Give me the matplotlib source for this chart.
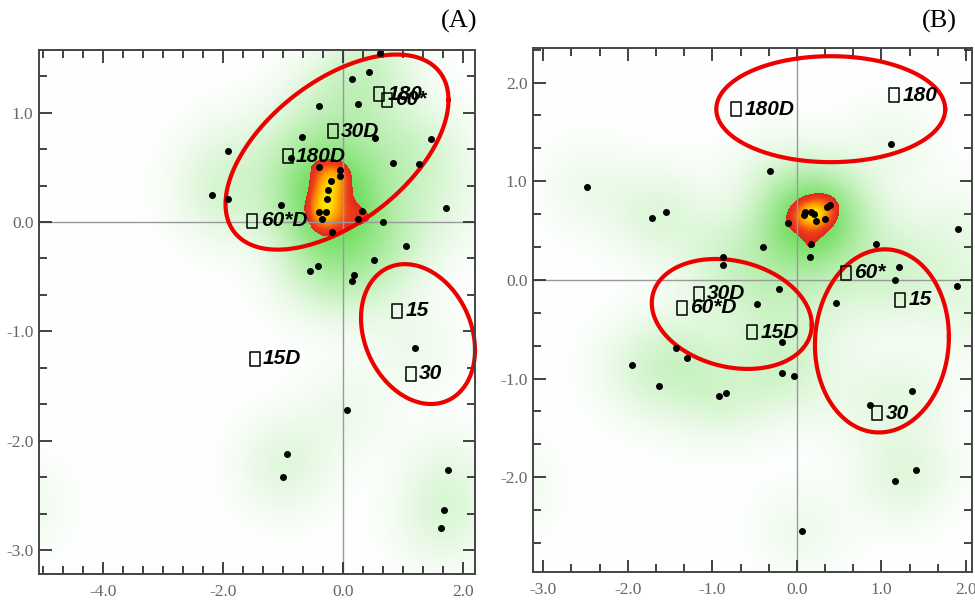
import numpy as np
import matplotlib
matplotlib.use("Agg")
import matplotlib.pyplot as plt
from matplotlib.colors import LinearSegmentedColormap
from matplotlib.path import Path
import matplotlib.font_manager as fm

# ---------------- data: panel A ----------------
a_pts_x = [0.62, 0.43, 0.15, -0.40, 0.25, -0.68, 0.53, 1.47, -1.92, -0.87, 0.83, 1.27,
           -0.40, -0.05, -0.05, -0.20, -0.25, -0.27, -2.18, -1.92, -1.03, 1.71, 0.32,
           -0.40, -0.29, -0.35, 0.25, 0.66, -0.18, 1.05, 0.52, -0.42, -0.55, 0.18, 0.15,
           1.20, 0.06, -0.93, -1.00, 1.75, 1.69, 1.64]
a_pts_y = [1.55, 1.37, 1.31, 1.06, 1.08, 0.78, 0.77, 0.76, 0.65, 0.59, 0.54, 0.53,
           0.50, 0.48, 0.42, 0.38, 0.29, 0.21, 0.25, 0.21, 0.16, 0.13, 0.10,
           0.09, 0.09, 0.03, 0.03, 0.00, -0.09, -0.22, -0.35, -0.40, -0.45, -0.48, -0.54,
           -1.15, -1.72, -2.12, -2.33, -2.27, -2.63, -2.80]
# samples just outside the visible window (only their density halo shows)
a_out_x = [-5.35]
a_out_y = [-2.60]
a_lab = ["180", "60*", "30D", "180D", "60*D", "15", "15D", "30"]
a_lab_x = [0.60, 0.73, -0.17, -0.92, -1.51, 0.90, -1.47, 1.13]
a_lab_y = [1.17, 1.12, 0.83, 0.60, 0.01, -0.81, -1.25, -1.39]
a_xticks = [-4.0, -2.0, 0.0, 2.0]
a_yticks = [1.0, 0.0, -1.0, -2.0, -3.0]

# ---------------- data: panel B ----------------
b_pts_x = [-2.48, -1.71, -1.55, -0.32, 1.11, -0.10, 0.08, 0.10, 0.17, 0.20, 0.22, 0.33,
           0.35, 0.39, 0.17, 0.16, -0.40, -0.87, -0.87, 0.93, 1.91, 1.21, 1.16, 1.89,
           -0.21, 0.46, -0.47, -0.18, -1.43, -1.30, -1.95, -1.63, -0.92, -0.84, -0.18,
           -0.03, 1.36, 0.86, 1.16, 1.41, 0.06]
b_pts_y = [0.94, 0.63, 0.69, 1.10, 1.38, 0.58, 0.66, 0.69, 0.69, 0.67, 0.60, 0.62,
           0.74, 0.76, 0.36, 0.23, 0.33, 0.23, 0.15, 0.36, 0.52, 0.13, 0.00, -0.06,
           -0.09, -0.23, -0.24, -0.63, -0.69, -0.79, -0.86, -1.08, -1.18, -1.15, -0.94,
           -0.97, -1.13, -1.27, -2.04, -1.93, -2.54]
b_out_x = [-3.40, 2.30]
b_out_y = [-2.10, -0.40]
b_lab = ["180D", "180", "60*", "15", "30D", "60*D", "15D", "30"]
b_lab_x = [-0.72, 1.15, 0.58, 1.22, -1.16, -1.36, -0.53, 0.95]
b_lab_y = [1.73, 1.87, 0.07, -0.20, -0.14, -0.28, -0.53, -1.35]
b_xticks = [-3.0, -2.0, -1.0, 0.0, 1.0, 2.0]
b_yticks = [2.0, 1.0, 0.0, -1.0, -2.0]

# ellipses: centre, conjugate half-axis vectors (data units)
a_ellipses = [((-0.10, 0.64), (1.858, 0.476), (0.0, 0.755)),
              ((1.25, -1.025), (0.95, -0.146), (0.0, 0.623))]
b_ellipses = [((0.40, 1.73), (1.353, 0.0), (0.0, 0.537)),
              ((-0.77, -0.345), (0.946, -0.111), (0.0, 0.546)),
              ((1.005, -0.618), (0.792, 0.04), (0.0, 0.927))]

# ---------------- fonts ----------------
def pick(fams):
    for f in fams:
        try:
            fm.findfont(fm.FontProperties(family=f), fallback_to_default=False)
            return f
        except Exception:
            pass
    return "DejaVu Sans"

label_font = pick(["Liberation Sans Narrow", "Liberation Sans", "DejaVu Sans"])
tick_font = pick(["Liberation Serif", "DejaVu Serif"])

W, H = 975, 605
fig = plt.figure(figsize=(W / 100, H / 100), dpi=100)

rect_marker = Path([(-0.35, -0.5), (0.35, -0.5), (0.35, 0.5), (-0.35, 0.5), (-0.35, -0.5)],
                   [Path.MOVETO, Path.LINETO, Path.LINETO, Path.LINETO, Path.CLOSEPOLY])

hot = LinearSegmentedColormap.from_list(
    "hot2", [(0.0, "#de281e"), (0.3, "#f0401a"), (0.65, "#ff9600"), (1.0, "#ffe800")])


def panel(px_rect, xlim, ylim, px_, py_, ox, oy, labs, lx, ly, xticks, yticks,
          ellipses, gmax, s_hot, thr):
    l, t, r, b = px_rect
    ax = fig.add_axes([l / W, 1 - b / H, (r - l) / W, (b - t) / H])
    ax.set_xlim(*xlim)
    ax.set_ylim(*ylim)
    sx = (r - l) / (xlim[1] - xlim[0])
    sy = (b - t) / (ylim[1] - ylim[0])
    gx = np.linspace(xlim[0], xlim[1], 440)
    gy = np.linspace(ylim[0], ylim[1], 520)
    X, Y = np.meshgrid(gx, gy)
    G = np.zeros_like(X)
    Hf = np.zeros_like(X)
    for x, y in zip(list(px_) + list(ox), list(py_) + list(oy)):
        d2 = ((X - x) * sx) ** 2 + ((Y - y) * sy) ** 2
        G += np.exp(-d2 / (2 * 33.0 ** 2))
    for x, y in zip(px_, py_):
        d2 = ((X - x) * sx) ** 2 + ((Y - y) * sy) ** 2
        Hf += np.exp(-d2 / (2 * s_hot ** 2))
    tt = np.clip(G / gmax, 0, 1)[..., None]
    green = np.array([0.45, 0.87, 0.38])
    img = np.ones(X.shape + (3,)) * (1 - tt) + green * tt
    ax.imshow(img, extent=[xlim[0], xlim[1], ylim[0], ylim[1]], origin="lower",
              aspect="auto", zorder=0, interpolation="bilinear")
    Hm = np.ma.masked_less(Hf, thr)
    ax.imshow(Hm, extent=[xlim[0], xlim[1], ylim[0], ylim[1]], origin="lower",
              aspect="auto", zorder=0.5, cmap=hot, vmin=thr, vmax=Hf.max(),
              interpolation="nearest")
    ax.axhline(0, color="#999999", lw=1.0, zorder=1)
    ax.axvline(0, color="#999999", lw=1.0, zorder=1)
    tp = np.linspace(0, 2 * np.pi, 300)
    for c, p, q in ellipses:
        ex = c[0] + p[0] * np.cos(tp) + q[0] * np.sin(tp)
        ey = c[1] + p[1] * np.cos(tp) + q[1] * np.sin(tp)
        ax.plot(ex, ey, color="#ee0000", lw=3.0, zorder=3, clip_on=False)
    ax.plot(px_, py_, "o", color="black", ms=4.0, zorder=4, clip_on=False)
    ax.plot(lx, ly, linestyle="none", marker=rect_marker, ms=10, mfc="none",
            mec="black", mew=1.1, zorder=5)
    for s, x, y in zip(labs, lx, ly):
        ax.annotate(s, (x, y), xytext=(6, 0), textcoords="offset points",
                    ha="left", va="center", fontsize=15, fontweight="bold",
                    fontstyle="italic", family=label_font, color="black", zorder=6)
    ax.set_xticks(xticks)
    ax.set_yticks(yticks)
    ax.set_xticklabels(["%.1f" % v for v in xticks])
    ax.set_yticklabels(["%.1f" % v for v in yticks])
    # minor ticks at thirds
    xs_minor = np.arange(np.ceil(xlim[0] * 3), np.floor(xlim[1] * 3) + 1) / 3.0
    ys_minor = np.arange(np.ceil(ylim[0] * 3), np.floor(ylim[1] * 3) + 1) / 3.0
    ax.set_xticks(xs_minor, minor=True)
    ax.set_yticks(ys_minor, minor=True)
    ax.tick_params(which="both", direction="in", top=True, right=True,
                   color="#333333", width=1.3)
    ax.tick_params(which="major", length=9, labelsize=12.5, labelcolor="#666666")
    ax.tick_params(which="minor", length=5.5)
    ax.tick_params(axis="x", which="major", pad=7)
    ax.tick_params(axis="y", which="major", pad=4)
    for lab in ax.get_xticklabels() + ax.get_yticklabels():
        lab.set_family(tick_font)
    for sp in ax.spines.values():
        sp.set_color("#444444")
        sp.set_linewidth(1.4)
        sp.set_zorder(7)
    return ax


panel((39, 50, 475, 574), (-5.067, 2.2), (-3.22, 1.574), a_pts_x, a_pts_y,
      a_out_x, a_out_y, a_lab, a_lab_x, a_lab_y, a_xticks, a_yticks, a_ellipses,
      gmax=9.0, s_hot=16.0, thr=2.45)
panel((533, 48, 972, 572), (-3.12, 2.07), (-2.96, 2.35), b_pts_x, b_pts_y,
      b_out_x, b_out_y, b_lab, b_lab_x, b_lab_y, b_xticks, b_yticks, b_ellipses,
      gmax=9.0, s_hot=13.0, thr=2.05)

fig.text(477 / W, 1 - 21 / H, "(A)", ha="right", va="center", fontsize=19,
         family=tick_font, color="black")
fig.text(957 / W, 1 - 21 / H, "(B)", ha="right", va="center", fontsize=19,
         family=tick_font, color="black")

fig.savefig("out.png", dpi=100)
